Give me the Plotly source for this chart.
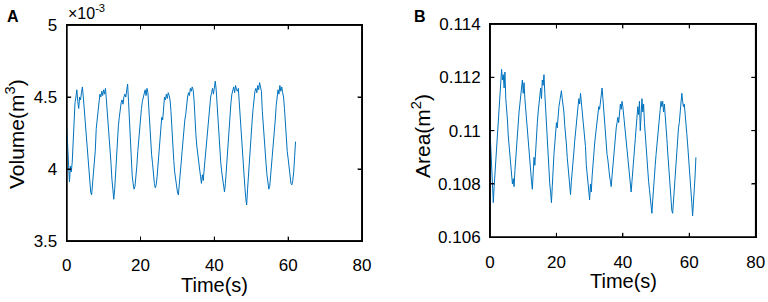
import numpy as np
import plotly.graph_objects as go

# Time axis (s), sampled every 0.25 s
time_s = np.arange(0, 62.01, 0.25)

# Panel A: Volume (x 1e-3 m^3)
volume_e3 = [
    4.29, 4.12, 4.00, 3.91, 4.02, 3.98, 4.05, 4.20,
    4.33, 4.46, 4.50, 4.55, 4.47, 4.42, 4.50, 4.48,
    4.53, 4.57, 4.50, 4.42, 4.30, 4.24, 4.15, 4.06,
    3.98, 3.90, 3.84, 3.82, 3.90, 3.97, 4.06, 4.13,
    4.28, 4.35, 4.42, 4.48, 4.52, 4.50, 4.54, 4.51,
    4.55, 4.52, 4.56, 4.48, 4.40, 4.34, 4.22, 4.12,
    4.04, 3.93, 3.83, 3.79, 3.86, 3.98, 4.06, 4.18,
    4.30, 4.36, 4.44, 4.46, 4.48, 4.45, 4.50, 4.52,
    4.50, 4.56, 4.59, 4.47, 4.31, 4.20, 4.04, 3.95,
    3.90, 3.86, 3.88, 3.94, 4.02, 4.12, 4.20, 4.30,
    4.34, 4.42, 4.47, 4.50, 4.52, 4.55, 4.51, 4.56,
    4.53, 4.40, 4.31, 4.22, 4.10, 4.04, 3.96, 3.90,
    3.87, 3.89, 3.95, 4.04, 4.12, 4.20, 4.30, 4.36,
    4.34, 4.44, 4.50, 4.48, 4.52, 4.49, 4.53, 4.51,
    4.48, 4.40, 4.25, 4.15, 4.06, 3.98, 3.92, 3.86,
    3.84, 3.82, 3.88, 3.96, 4.04, 4.12, 4.22, 4.28,
    4.34, 4.38, 4.46, 4.50, 4.53, 4.51, 4.56, 4.54,
    4.57, 4.55, 4.48, 4.31, 4.24, 4.16, 4.09, 4.04,
    4.00, 3.95, 3.90, 3.96, 3.92, 4.00, 4.08, 4.14,
    4.22, 4.30, 4.34, 4.44, 4.50, 4.53, 4.56, 4.52,
    4.58, 4.61, 4.55, 4.44, 4.34, 4.26, 4.14, 4.04,
    3.98, 3.92, 3.86, 3.84, 3.90, 4.00, 4.12, 4.22,
    4.30, 4.39, 4.46, 4.52, 4.55, 4.57, 4.53, 4.58,
    4.55, 4.54, 4.56, 4.46, 4.31, 4.22, 4.12, 4.04,
    3.96, 3.88, 3.80, 3.75, 3.86, 3.97, 4.04, 4.14,
    4.26, 4.34, 4.42, 4.50, 4.54, 4.56, 4.53, 4.58,
    4.55, 4.60, 4.57, 4.54, 4.40, 4.29, 4.20, 4.12,
    4.04, 3.96, 3.90, 3.86, 3.88, 3.95, 4.04, 4.12,
    4.20, 4.28, 4.34, 4.44, 4.50, 4.55, 4.52, 4.58,
    4.54, 4.57, 4.53, 4.50, 4.42, 4.29, 4.20, 4.12,
    4.07, 4.00, 3.94, 3.90, 3.89, 3.92, 3.98, 4.10,
    4.19,
]

# Panel B: Area (m^2)
area_m2 = [
    0.1100, 0.1092, 0.1085, 0.1080, 0.1073, 0.1079, 0.1084, 0.1090,
    0.1097, 0.1101, 0.1107, 0.1111, 0.1116, 0.1118, 0.1123, 0.1119,
    0.1121, 0.1116, 0.1122, 0.1112, 0.1109, 0.1104, 0.1098, 0.1094,
    0.1089, 0.1085, 0.1083, 0.1080, 0.1082, 0.1079, 0.1085, 0.1090,
    0.1093, 0.1098, 0.1101, 0.1107, 0.1110, 0.1113, 0.1115, 0.1119,
    0.1114, 0.1118, 0.1112, 0.1108, 0.1103, 0.1098, 0.1094, 0.1091,
    0.1088, 0.1084, 0.1081, 0.1078, 0.1083, 0.1090, 0.1087, 0.1094,
    0.1099, 0.1103, 0.1107, 0.1110, 0.1113, 0.1116, 0.1112, 0.1119,
    0.1117, 0.1121, 0.1114, 0.1108, 0.1099, 0.1094, 0.1089, 0.1084,
    0.1080, 0.1077, 0.1073, 0.1079, 0.1087, 0.1091, 0.1095, 0.1099,
    0.1103, 0.1101, 0.1106, 0.1109, 0.1111, 0.1113, 0.1115, 0.1112,
    0.1110, 0.1107, 0.1102, 0.1099, 0.1095, 0.1090, 0.1087, 0.1083,
    0.1079, 0.1076, 0.1081, 0.1084, 0.1089, 0.1092, 0.1096, 0.1100,
    0.1104, 0.1107, 0.1109, 0.1112, 0.1110, 0.1114, 0.1111, 0.1108,
    0.1104, 0.1101, 0.1099, 0.1094, 0.1087, 0.1083, 0.1080, 0.1076,
    0.1074, 0.1080, 0.1077, 0.1083, 0.1088, 0.1091, 0.1095, 0.1098,
    0.1101, 0.1104, 0.1106, 0.1109, 0.1108, 0.1111, 0.1113, 0.1116,
    0.1112, 0.1108, 0.1101, 0.1097, 0.1094, 0.1091, 0.1089, 0.1085,
    0.1083, 0.1081, 0.1079, 0.1083, 0.1087, 0.1090, 0.1094, 0.1098,
    0.1101, 0.1103, 0.1105, 0.1103, 0.1107, 0.1110, 0.1108, 0.1111,
    0.1109, 0.1106, 0.1103, 0.1099, 0.1097, 0.1093, 0.1089, 0.1086,
    0.1083, 0.1080, 0.1077, 0.1081, 0.1086, 0.1090, 0.1093, 0.1097,
    0.1101, 0.1105, 0.1109, 0.1106, 0.1111, 0.1100, 0.1108, 0.1112,
    0.1107, 0.1110, 0.1103, 0.1098, 0.1094, 0.1090, 0.1085, 0.1081,
    0.1078, 0.1075, 0.1072, 0.1069, 0.1074, 0.1080, 0.1084, 0.1087,
    0.1091, 0.1095, 0.1099, 0.1103, 0.1106, 0.1108, 0.1111, 0.1109,
    0.1111, 0.1107, 0.1110, 0.1104, 0.1099, 0.1097, 0.1092, 0.1087,
    0.1083, 0.1078, 0.1074, 0.1070, 0.1069, 0.1074, 0.1080, 0.1085,
    0.1088, 0.1093, 0.1097, 0.1101, 0.1103, 0.1108, 0.1110, 0.1114,
    0.1111, 0.1109, 0.1110, 0.1107, 0.1103, 0.1099, 0.1095, 0.1091,
    0.1088, 0.1084, 0.1079, 0.1073, 0.1068, 0.1072, 0.1078, 0.1083,
    0.1090,
]

x_ticks = [0, 20, 40, 60, 80]
vol_ticks = [3.5, 4, 4.5, 5]
vol_ticktext = ["3.5", "4", "4.5", "5"]
area_ticks = [0.106, 0.108, 0.110, 0.112, 0.114]
area_ticktext = ["0.106", "0.108", "0.11", "0.112", "0.114"]

W, H = 768, 302
LINE = "#0072BD"
FONT = "Liberation Sans, Arial, sans-serif"

# panel boxes in pixels: left, right, top, bottom
BOX_A = (66.7, 362.0, 25.0, 241.0)
BOX_B = (490.0, 755.7, 24.0, 237.3)
X_RANGE = (0, 80)
VOL_RANGE = (3.5, 5)
AREA_RANGE = (0.106, 0.114)

def px(x):
    return x / W

def py(y):
    return 1 - y / H

fig = go.Figure()
fig.add_trace(go.Scatter(x=time_s, y=volume_e3, mode="lines",
                         line=dict(color=LINE, width=1), xaxis="x", yaxis="y",
                         showlegend=False, hoverinfo="skip"))
fig.add_trace(go.Scatter(x=time_s, y=area_m2, mode="lines",
                         line=dict(color=LINE, width=1), xaxis="x2", yaxis="y2",
                         showlegend=False, hoverinfo="skip"))

# Frame and inside ticks drawn as line traces in each panel's own data space
TL = 4.5  # tick length in px
def frame_and_ticks(xa, ya, box, xr, yr, xt, yt):
    l, r, t, b = box
    ux = (xr[1] - xr[0]) / (r - l)
    uy = (yr[1] - yr[0]) / (b - t)
    fx = [xr[0], xr[1], xr[1], xr[0], xr[0]]
    fy = [yr[0], yr[0], yr[1], yr[1], yr[0]]
    fig.add_trace(go.Scatter(x=fx, y=fy, mode="lines", xaxis=xa, yaxis=ya,
                             line=dict(color="black", width=1.6),
                             showlegend=False, hoverinfo="skip"))
    tx, ty = [], []
    for v in xt[1:-1]:
        tx += [v, v, None, v, v, None]
        ty += [yr[0], yr[0] + TL * uy, None, yr[1], yr[1] - TL * uy, None]
    for v in yt[1:-1]:
        tx += [xr[0], xr[0] + TL * ux, None, xr[1], xr[1] - TL * ux, None]
        ty += [v, v, None, v, v, None]
    fig.add_trace(go.Scatter(x=tx, y=ty, mode="lines", xaxis=xa, yaxis=ya,
                             line=dict(color="black", width=1),
                             showlegend=False, hoverinfo="skip", connectgaps=False))

frame_and_ticks("x", "y", BOX_A, X_RANGE, VOL_RANGE, x_ticks, vol_ticks)
frame_and_ticks("x2", "y2", BOX_B, X_RANGE, AREA_RANGE, x_ticks, area_ticks)

axis_common = dict(showline=True, linecolor="black", linewidth=1,
                   mirror="ticks", ticks="inside", ticklen=4,
                   tickcolor="black", tickwidth=1, showgrid=False,
                   zeroline=False, automargin=False,
                   tickfont=dict(family=FONT, size=17, color="black"))

fig.update_layout(
    width=W, height=H,
    margin=dict(l=0, r=0, t=0, b=0, autoexpand=False),
    paper_bgcolor="white", plot_bgcolor="rgba(0,0,0,0)",
    xaxis=dict(domain=[px(BOX_A[0]), px(BOX_A[1])], range=list(X_RANGE), tickvals=x_ticks,
               anchor="y", ticklabelstandoff=9, **axis_common),
    yaxis=dict(domain=[py(BOX_A[3]), py(BOX_A[2])], range=list(VOL_RANGE), tickvals=vol_ticks,
               ticktext=vol_ticktext, anchor="x", ticklabelstandoff=5, **axis_common),
    xaxis2=dict(domain=[px(BOX_B[0]), px(BOX_B[1])], range=list(X_RANGE), tickvals=x_ticks,
                anchor="y2", ticklabelstandoff=9, **axis_common),
    yaxis2=dict(domain=[py(BOX_B[3]), py(BOX_B[2])], range=list(AREA_RANGE),
                tickvals=area_ticks, ticktext=area_ticktext, anchor="x2",
                ticklabelstandoff=5, **axis_common),
)

# Frames as filled rectangles (black outer, white inner), below the traces
HALF = 0.7
for (l, r, t, b) in (BOX_A, BOX_B):
    fig.add_shape(type="rect", xref="paper", yref="paper",
                  x0=px(l - HALF), x1=px(r + HALF), y0=py(b + HALF), y1=py(t - HALF),
                  fillcolor="black", line=dict(width=0), layer="below")
    fig.add_shape(type="rect", xref="paper", yref="paper",
                  x0=px(l + HALF), x1=px(r - HALF), y0=py(b - HALF), y1=py(t + HALF),
                  fillcolor="white", line=dict(width=0), layer="below")

def ann(text, x, y, size, angle=0, xanchor="center"):
    return dict(text=text, x=px(x), y=py(y), xref="paper", yref="paper",
                xanchor=xanchor, yanchor="middle", textangle=angle,
                showarrow=False, font=dict(family=FONT, size=size, color="black"))

fig.update_layout(annotations=[
    ann("<b>A</b>", 13, 17, 16),
    ann("<b>B</b>", 420, 17, 16),
    ann("×10<sup>-3</sup>", 66, 12, 16, xanchor="left"),
    ann("Time(s)", 214, 285, 20),
    ann("Time(s)", 623, 281, 20),
    ann("Volume(m<sup>3</sup>)", 15, 134, 21, angle=-90),
    ann("Area(m<sup>2</sup>)", 421, 136, 21, angle=-90),
])

fig.write_html("out.html", config={"displayModeBar": False},
               post_script="document.body.style.margin='0px';")
